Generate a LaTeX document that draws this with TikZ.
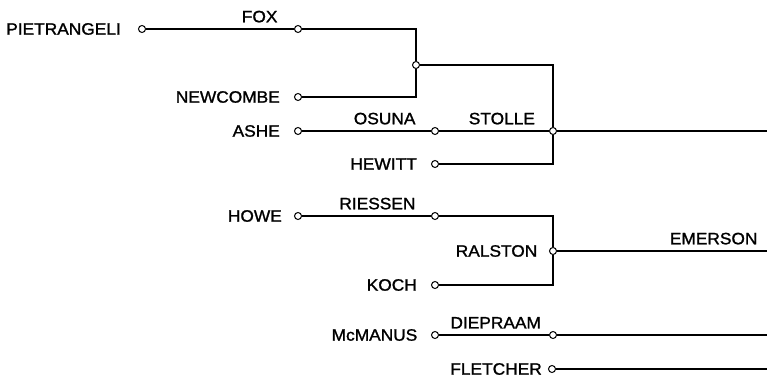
\documentclass[tikz,border=0pt]{standalone}
\usepackage{fontspec}
\newfontfamily\drawfont[FakeStretch=1.05, FakeBold=1.3]{Liberation Sans}
\usetikzlibrary{positioning}
\tikzset{%
dot/.style={circle, draw, line width=1pt, fill=white, inner sep=0pt, minimum size=7pt},
player/.style={font=\drawfont\fontsize{16.5}{18}\selectfont, inner sep=0pt},
won/.style={player, pos=1, anchor=south east, xshift=#1, yshift=6pt},
won/.default=-15pt,
ln/.style={draw, line width=1.1pt}
}

\begin{document}
\begin{tikzpicture}[x=1pt, y=-1pt, node distance=14pt]
	\useasboundingbox (0,0) rectangle (768,377);
	% upper half
	\node[dot] (pietrangeli) at (142,29) {};
	\node[dot] (fox) at (298,29) {};
	\node[dot] (newcombe) at (298,97) {};
	\node[dot] (semi1) at (416,65) {};
	\node[dot] (ashe) at (298,131) {};
	\node[dot] (osuna) at (435,131) {};
	\node[dot] (hewitt) at (435,164) {};
	\node[dot] (stolle) at (553,131) {};
	\coordinate (end1) at (767,131);

	\node[player, left=17pt of pietrangeli] {PIETRANGELI};
	\node[player, left=of newcombe] {NEWCOMBE};
	\node[player, left=of ashe] {ASHE};
	\node[player, left=of hewitt] {HEWITT};

	\path[ln] (pietrangeli) edge node[won=-16pt] {FOX} (fox);
	\draw[ln] (fox) -| (semi1);
	\draw[ln] (newcombe) -| (semi1);
	\draw[ln] (semi1) -| (stolle);
	\path[ln] (ashe) edge node[won] {OSUNA} (osuna);
	\path[ln] (osuna) edge node[won=-13.5pt] {STOLLE} (stolle);
	\draw[ln] (hewitt) -| (stolle);
	\draw[ln] (stolle) -- (end1);

	% lower half
	\node[dot] (howe) at (298,216) {};
	\node[dot] (riessen) at (435,216) {};
	\node[dot] (koch) at (435,285) {};
	\node[dot] (ralston) at (553,251) {};
	\coordinate (end2) at (767,251);
	\node[dot] (mcmanus) at (435,335) {};
	\node[dot] (diepraam) at (553,335) {};
	\coordinate (end3) at (767,335);
	\node[dot] (fletcher) at (552,369) {};
	\coordinate (end4) at (767,369);

	\node[player, left=12pt of howe] {HOWE};
	\node[player, left=of koch] {KOCH};
	\node[player, left=11.5pt of ralston] {RALSTON};
	\node[player, left=13.5pt of mcmanus] {McMANUS};
	\node[player, left=6pt of fletcher] {FLETCHER};

	\path[ln] (howe) edge node[won] {RIESSEN} (riessen);
	\draw[ln] (riessen) -| (ralston);
	\draw[ln] (koch) -| (ralston);
	\path[ln] (ralston) edge node[won=-9pt] {EMERSON} (end2);
	\path[ln] (mcmanus) edge node[won=-7.5pt] {DIEPRAAM} (diepraam);
	\draw[ln] (diepraam) -- (end3);
	\draw[ln] (fletcher) -- (end4);
\end{tikzpicture}
\end{document}
